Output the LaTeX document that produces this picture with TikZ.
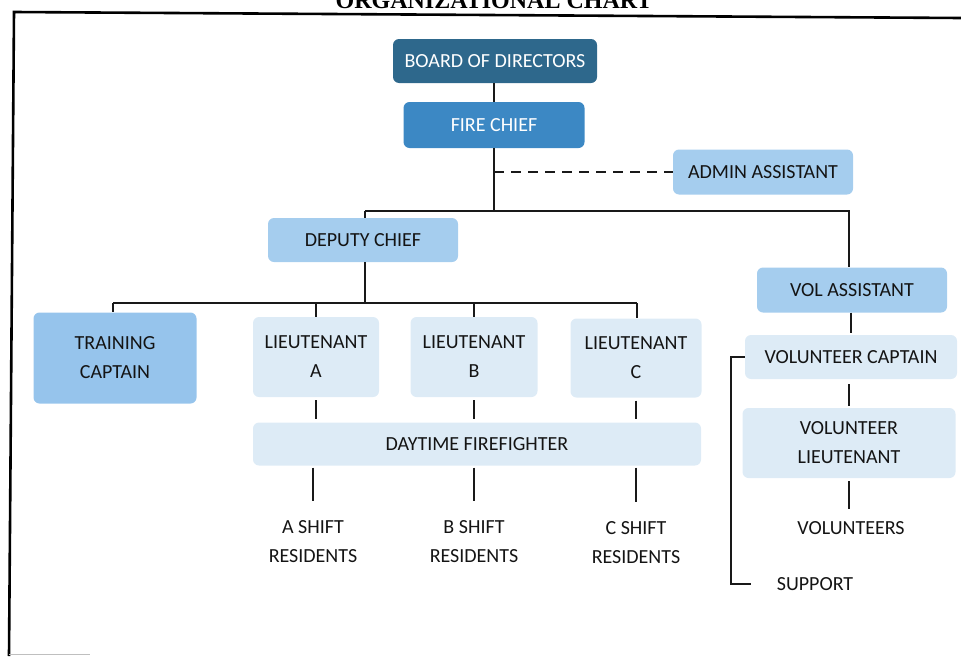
\documentclass[tikz,border=0pt]{standalone}
\usepackage{fontspec}
\setmainfont{Carlito}
\newfontfamily\titlefont{Liberation Serif}
\definecolor{boardc}{RGB}{46,104,140}
\definecolor{chiefc}{RGB}{60,136,196}
\definecolor{lightc}{RGB}{165,205,238}
\definecolor{trainc}{RGB}{150,196,236}
\definecolor{palec}{RGB}{221,235,246}
\definecolor{txtc}{RGB}{20,20,20}
\tikzset{
  box/.style={rounded corners=6pt, inner sep=0pt, align=center, text=txtc,
    font=\fontsize{20}{29}\selectfont},
  darkbox/.style={box, text=white},
  plain/.style={inner sep=0pt, align=center, text=txtc, font=\fontsize{20}{29}\selectfont},
  conn/.style={line width=2.8pt, draw=black!90},
}
\begin{document}
\begin{tikzpicture}[x=1pt,y=-1pt]
\useasboundingbox (0,0) rectangle (961,656);
\clip (0,0) rectangle (961,656);
% title and frame
\node[anchor=base, font=\titlefont\bfseries\fontsize{24}{28}\selectfont] (title) at (494,8) {ORGANIZATIONAL CHART};
\draw[line width=2.6pt] (9,656) -- (14,12) -- (961,18);
\draw[line width=1pt, black!25] (9,654) -- (90,654);
% nodes
\node[darkbox, fill=boardc, minimum width=204pt, minimum height=44pt] (board) at (495,61) {BOARD OF DIRECTORS};
\node[darkbox, fill=chiefc, minimum width=181pt, minimum height=46pt] (chief) at (494,125) {FIRE CHIEF};
\node[box, fill=lightc, minimum width=180pt, minimum height=45pt] (admin) at (763,172) {ADMIN ASSISTANT};
\node[box, fill=lightc, minimum width=190pt, minimum height=44pt] (deputy) at (363,240) {DEPUTY CHIEF};
\node[box, fill=lightc, minimum width=190pt, minimum height=45pt] (vol) at (852,290) {VOL ASSISTANT};
\node[box, fill=trainc, minimum width=163pt, minimum height=91pt] (train) at (115,358) {TRAINING\\CAPTAIN};
\node[box, fill=palec, minimum width=126pt, minimum height=80pt] (lta) at (316,357) {LIEUTENANT\\A};
\node[box, fill=palec, minimum width=127pt, minimum height=80pt] (ltb) at (474,357) {LIEUTENANT\\B};
\node[box, fill=palec, minimum width=131pt, minimum height=79pt] (ltc) at (636,358) {LIEUTENANT\\C};
\node[box, fill=palec, minimum width=448pt, minimum height=43pt] (day) at (477,444) {DAYTIME FIREFIGHTER};
\node[box, fill=palec, minimum width=212pt, minimum height=44pt] (volcap) at (851,357) {VOLUNTEER CAPTAIN};
\node[box, fill=palec, minimum width=213pt, minimum height=70pt] (vollt) at (849,443) {VOLUNTEER\\LIEUTENANT};
\node[plain] (ashift) at (313,542) {A SHIFT\\RESIDENTS};
\node[plain] (bshift) at (474,542) {B SHIFT\\RESIDENTS};
\node[plain] (cshift) at (636,543) {C SHIFT\\RESIDENTS};
\node[plain] (vols) at (851,528) {VOLUNTEERS};
\node[plain] (support) at (815,584) {SUPPORT};
% junctions
\coordinate (jtop) at (365,211);
\coordinate (jright) at (849,211);
\coordinate (jmid) at (365,303);
\coordinate (jleft) at (113,303);
\coordinate (jlc) at (637,303);
\coordinate (brk) at (731,0);
% connectors
\draw[conn] (board.south -| chief.north) -- (chief.north);
\draw[conn] (chief.south) -- (chief.south |- jtop);
\draw[conn] (jtop) -- (jright) -- (jright |- vol.north);
\draw[conn] (jtop) -- (jtop |- deputy.north);
\draw[conn, dash pattern=on 10pt off 7pt] (chief.south |- admin.west) -- (admin.west);
\draw[conn] (jtop |- deputy.south) -- (jmid);
\draw[conn] (jleft) -- (jlc);
\draw[conn] (jleft) -- (jleft |- train.north);
\draw[conn] (lta.north |- jmid) -- (lta.north);
\draw[conn] (ltb.north |- jmid) -- (ltb.north);
\draw[conn] (jlc) -- (jlc |- ltc.north);
\draw[conn, shorten <=3pt, shorten >=3pt] (lta.south) -- (lta.south |- day.north);
\draw[conn, shorten <=3pt, shorten >=3pt] (ltb.south) -- (ltb.south |- day.north);
\draw[conn, shorten <=3pt, shorten >=3pt] (ltc.south) -- (ltc.south |- day.north);
\draw[conn, shorten <=2pt, shorten >=20pt] (day.south -| ashift) -- (ashift.north);
\draw[conn, shorten <=2pt, shorten >=20pt] (day.south -| bshift) -- (bshift.north);
\draw[conn, shorten <=2pt, shorten >=20pt] (day.south -| cshift) -- (cshift.north);
\draw[conn, shorten >=2pt] (vol.south -| volcap.north) -- (volcap.north);
\draw[conn, shorten <=5pt, shorten >=2pt] (volcap.south -| vollt.north) -- (vollt.north);
\draw[conn, shorten <=3pt, shorten >=12pt] (vollt.south) -- (vollt.south |- vols.north);
\draw[conn, shorten >=26pt] (volcap.west) -- (volcap.west -| brk) |- (support.west);
\end{tikzpicture}
\end{document}
